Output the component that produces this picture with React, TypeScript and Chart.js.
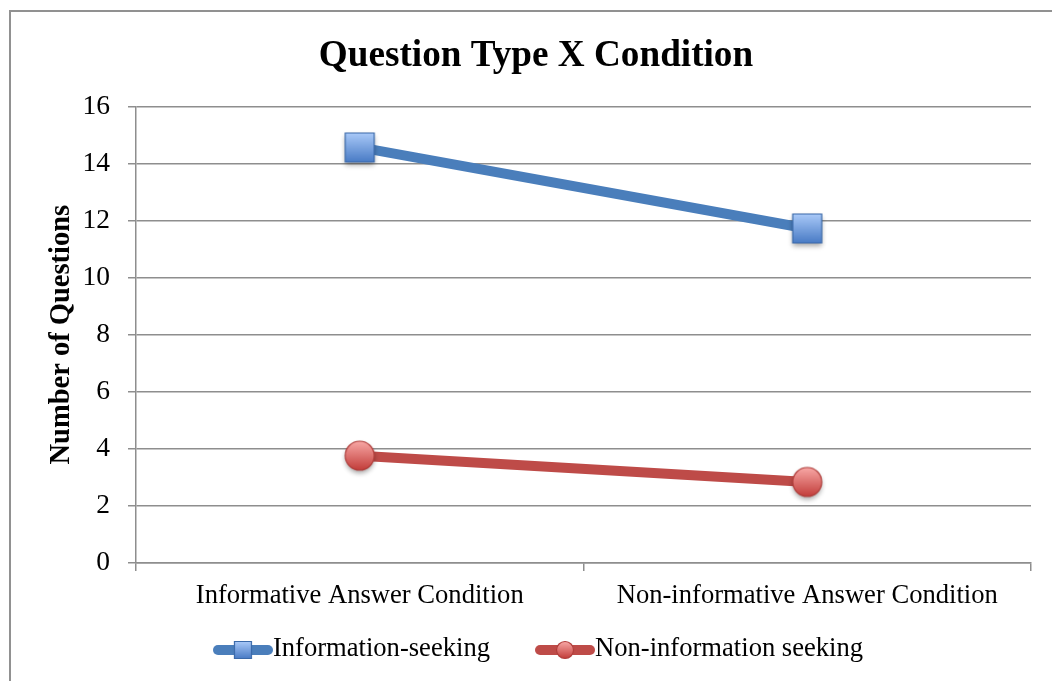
import React, { useEffect, useRef } from "react";
import { Chart, registerables } from "chart.js";

Chart.register(...registerables);

const categories = ["Informative Answer Condition", "Non-informative Answer Condition"];
const seriesNames = ["Information-seeking", "Non-information seeking"];
const infoSeeking = [14.56, 11.72];
const nonInfoSeeking = [3.76, 2.84];
const yMin = 0;
const yMax = 16;
const yStep = 2;

const FONT = '"Liberation Serif", "Times New Roman", serif';
const BLUE = "#4a7ebb";
const RED = "#be4b48";
const GRID = "#8e8e8e";

const W = 1052;
const H = 681;
const PAD_LEFT = 41;
const PAD_RIGHT = 21;
const PAD_BOTTOM = 66;

type Kind = "square" | "circle";

function markerPath(ctx: CanvasRenderingContext2D, kind: Kind, cx: number, cy: number, size: number) {
  ctx.beginPath();
  if (kind === "square") ctx.rect(cx - size / 2, cy - size / 2, size, size);
  else ctx.arc(cx, cy, size / 2, 0, Math.PI * 2);
}

function drawMarker(ctx: CanvasRenderingContext2D, kind: Kind, cx: number, cy: number, size: number, shadow: boolean) {
  const r = size / 2;
  ctx.save();
  if (shadow) {
    ctx.shadowColor = "rgba(0,0,0,0.35)";
    ctx.shadowBlur = 5;
    ctx.shadowOffsetY = 3;
  }
  const g = ctx.createLinearGradient(0, cy - r, 0, cy + r);
  if (kind === "square") {
    g.addColorStop(0, "#a9c9f8");
    g.addColorStop(1, "#497bc5");
  } else {
    g.addColorStop(0, "#f8a8a6");
    g.addColorStop(1, "#c23d3a");
  }
  ctx.fillStyle = g;
  markerPath(ctx, kind, cx, cy, size);
  ctx.fill();
  ctx.restore();
  ctx.save();
  ctx.lineWidth = 1.2;
  ctx.strokeStyle = kind === "square" ? "#3a69a9" : "#b03d3a";
  markerPath(ctx, kind, cx, cy, size);
  ctx.stroke();
  ctx.restore();
}

function makeMarkerImage(kind: Kind, size: number): HTMLCanvasElement {
  const c = document.createElement("canvas");
  const s = Math.ceil(size + 18);
  c.width = s;
  c.height = s;
  const ctx = c.getContext("2d")!;
  drawMarker(ctx, kind, s / 2, s / 2, size, true);
  return c;
}

function makeLegendIcon(kind: Kind, color: string): HTMLCanvasElement {
  const c = document.createElement("canvas");
  c.width = 60;
  c.height = 24;
  const ctx = c.getContext("2d")!;
  ctx.strokeStyle = color;
  ctx.lineWidth = 10;
  ctx.lineCap = "round";
  ctx.beginPath();
  ctx.moveTo(5, 12);
  ctx.lineTo(55, 12);
  ctx.stroke();
  drawMarker(ctx, kind, 30, 12, 17, false);
  return c;
}

const lineLegend = {
  id: "lineLegend",
  afterDraw(chart: any) {
    const ctx: CanvasRenderingContext2D = chart.ctx;
    const ds = chart.data.datasets;
    ctx.save();
    ctx.font = `26.6px ${FONT}`;
    ctx.fillStyle = "#000";
    ctx.textBaseline = "middle";
    ctx.textAlign = "left";
    const gap = 45;
    const icons: HTMLCanvasElement[] = ds.map((d: any) => d.legendIcon);
    const widths = ds.map((d: any, i: number) => icons[i].width + ctx.measureText(d.label).width);
    const total = widths.reduce((a: number, b: number) => a + b, 0) + gap * (ds.length - 1);
    const center = 538;
    const y = chart.height - 32;
    let x = center - total / 2;
    ds.forEach((d: any, i: number) => {
      const ic = icons[i];
      ctx.drawImage(ic, x, y - ic.height / 2 + 1);
      ctx.fillText(d.label, x + ic.width, y);
      x += widths[i] + gap;
    });
    ctx.restore();
  },
};

export default function App() {
  const ref = useRef<HTMLCanvasElement | null>(null);

  useEffect(() => {
    if (!ref.current) return;
    const chart = new Chart(ref.current, {
      type: "line",
      data: {
        labels: categories,
        datasets: [
          {
            label: seriesNames[0],
            data: infoSeeking,
            borderColor: BLUE,
            backgroundColor: BLUE,
            borderWidth: 10,
            pointBorderWidth: 0,
            pointStyle: makeMarkerImage("square", 29) as any,
            pointRadius: 15,
            legendIcon: makeLegendIcon("square", BLUE),
          } as any,
          {
            label: seriesNames[1],
            data: nonInfoSeeking,
            borderColor: RED,
            backgroundColor: RED,
            borderWidth: 10,
            pointBorderWidth: 0,
            pointStyle: makeMarkerImage("circle", 29) as any,
            pointRadius: 15,
            legendIcon: makeLegendIcon("circle", RED),
          } as any,
        ],
      },
      options: {
        responsive: false,
        animation: false,
        layout: {
          autoPadding: false,
          padding: { left: PAD_LEFT, right: PAD_RIGHT, top: 0, bottom: PAD_BOTTOM },
        },
        plugins: {
          legend: { display: false },
          tooltip: { enabled: false },
          title: {
            display: true,
            text: "Question Type X Condition",
            color: "#000",
            font: { family: FONT, size: 37.2, weight: "bold" },
            padding: { top: 34, bottom: 27.7 },
          },
        },
        scales: {
          x: {
            type: "category",
            offset: true,
            grid: {
              display: true,
              offset: true,
              drawOnChartArea: false,
              drawTicks: true,
              tickLength: 8,
              color: GRID,
              lineWidth: 1.5,
            },
            border: { display: true, color: GRID, width: 1.5 },
            ticks: {
              color: "#000",
              font: { family: FONT, size: 26.6 },
              padding: 9,
              maxRotation: 0,
            },
            afterFit: (s: any) => {
              s.height = 52;
              s.paddingLeft = 0;
              s.paddingRight = 0;
            },
          },
          y: {
            min: yMin,
            max: yMax,
            ticks: {
              stepSize: yStep,
              color: "#000",
              font: { family: FONT, size: 27.5 },
              padding: 18,
            },
            grid: {
              color: GRID,
              lineWidth: 1.5,
              drawTicks: true,
              tickLength: 8,
            },
            border: { display: true, color: GRID, width: 1.5 },
            title: {
              display: true,
              text: "Number of Questions",
              color: "#000",
              font: { family: FONT, size: 28.5, weight: "bold" },
              padding: { top: 4, bottom: 0 },
            },
            afterFit: (s: any) => {
              s.width = 136 - PAD_LEFT;
            },
          },
        },
      },
      plugins: [lineLegend],
    });
    return () => chart.destroy();
  }, []);

  return (
    <div
      style={{
        position: "fixed",
        left: 0,
        top: 0,
        width: W,
        height: H,
        overflow: "hidden",
        background: "#fff",
      }}
    >
      <div
        style={{
          position: "absolute",
          left: 9,
          top: 10,
          width: 1200,
          height: 900,
          border: "2px solid #919191",
        }}
      />
      <canvas ref={ref} width={W} height={H} style={{ position: "absolute", left: 0, top: 0 }} />
    </div>
  );
}
